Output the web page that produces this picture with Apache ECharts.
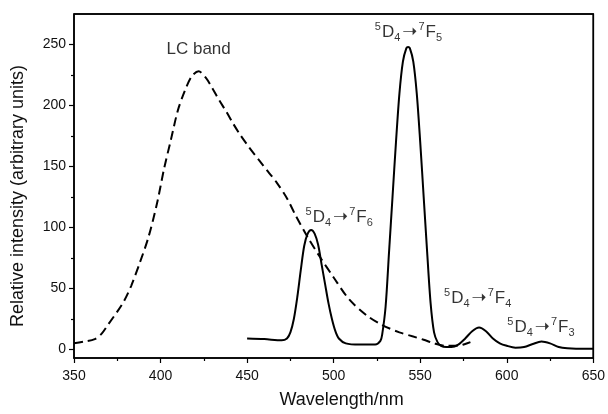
<!DOCTYPE html>
<html>
<head>
<meta charset="utf-8">
<script src="https://cdn.jsdelivr.net/npm/echarts@6/dist/echarts.min.js"></script>
<style>html,body{margin:0;padding:0;background:#fff}#c{width:608px;height:414px}</style>
</head>
<body>
<div id="c"></div>
<script>
// LC band (dashed) — wavelength (nm) and intensity
var lcX = [350,356,362,366,370,375,379,383,388,393,398,402,406,410,414,418,422,426,430,434,438,442,446,451,457,462,467,473,478,485,492,500,509,519,528,538,545,552,558,565,572,576,579];
var lcY = [5,6.5,8.5,13,21,31,40,52,71,92,120,148,172,196,212,224,228,223,214,204,195,185,176,166,155,146,137,124,110,92,76,59,41,28,20,14,11,8,5,3,3,4.5,6];
// Tb3+ emission (solid)
var emX = [450,460,470,473,475,477,479,481,483,485,487,489,491,493,495,497,499,501,503,507,515,524,527,528,530,532,534,536,538,540,542,543,544,546,548,550,552,554,556,558,560,562,565,568,572,576,580,584,588,592,596,600,605,610,615,620,625,630,635,645,650];
var emY = [9,8.5,7.5,9,14,25,43,65,85,95,98,95,86,70,54,38,25,15,9,5,4,4,7,12,35,80,125,170,210,236,247,248,247,236,210,170,125,80,38,14,6,3,2,2,4,9,15,18,15,9,5,3,1.5,2,4.5,6.5,5,2,1,0.5,0.5];
// axis ranges and tick values
var xRange = [350, 650];
var yRange = [-7, 275];
var yTicks = [0,50,100,150,200,250];
// annotations
var annX = [543.5, 503.5, 583.5, 620];
var annY = [260, 108, 42, 18];
var annLower = ['5','5','5','5'];
var annUpper = ['7','7','7','7'];
var annFinal = ['5','6','4','3'];
var lcLabel = 'LC band';
var lcLabelPos = [422, 246];

var FONT = '"Liberation Sans", Arial, sans-serif';
var chart = echarts.init(document.getElementById('c'));

function pairs(xs, ys){ return xs.map(function(x,i){ return [x, ys[i]]; }); }
var annData = annX.map(function(x,i){ return {value:[x, annY[i]], sIdx:i}; });
// frame path along the top and right edges of the axes' ranges
var frameData = [[xRange[0], yRange[1]], [xRange[1], yRange[1]], [xRange[1], yRange[0]]];

var option = {
  animation: false,
  backgroundColor: '#fff',
  grid: {left: 74, right: 14, top: 14, bottom: 52, show: true, borderColor: '#000', borderWidth: 1.5},
  xAxis: {
    type: 'value', min: xRange[0], max: xRange[1], interval: 50,
    axisLine: {show: true, onZero: false, lineStyle: {color: '#000', width: 1.5}},
    axisTick: {show: true, length: 5, lineStyle: {color: '#000', width: 1.2}},
    minorTick: {show: true, splitNumber: 2, length: 3, lineStyle: {color: '#000', width: 1.2}},
    splitLine: {show: false},
    axisLabel: {color: '#111', fontSize: 14, fontFamily: FONT, margin: 11},
    name: 'Wavelength/nm', nameLocation: 'middle', nameGap: 33,
    nameTextStyle: {color: '#111', fontSize: 18, fontFamily: FONT, padding: [0, 0, 0, 16]}
  },
  yAxis: {
    type: 'value', min: yRange[0], max: yRange[1],
    axisLine: {show: true, onZero: false, lineStyle: {color: '#000', width: 1.5}},
    axisTick: {show: true, length: 5, customValues: yTicks, lineStyle: {color: '#000', width: 1.2}},
    minorTick: {show: true, splitNumber: 2, length: 3, lineStyle: {color: '#000', width: 1.2}},
    axisLabel: {color: '#111', fontSize: 14, fontFamily: FONT, margin: 8, customValues: yTicks},
    splitLine: {show: false},
    name: 'Relative intensity (arbitrary units)', nameLocation: 'middle', nameGap: 47,
    nameTextStyle: {color: '#111', fontSize: 18, fontFamily: FONT, padding: [0, 20, 0, 0]}
  },
  series: [{
    type: 'line', name: 'frame', data: frameData, symbol: 'none', clip: false,
    lineStyle: {color: '#000', width: 1.5}
  }, {
    type: 'line', name: 'LC', data: pairs(lcX, lcY), smooth: 0.3, symbol: 'none',
    lineStyle: {color: '#000', width: 2, type: [9, 5]}
  }, {
    type: 'line', name: 'Tb', data: pairs(emX, emY), smooth: 0.3, symbol: 'none',
    lineStyle: {color: '#000', width: 2}
  }, {
    type: 'scatter', data: [{value: lcLabelPos}], symbolSize: 0, silent: true,
    label: {show: true, position: 'inside', formatter: lcLabel, color: '#000', fontSize: 17, fontFamily: FONT}
  }, {
    type: 'scatter', data: annData, symbolSize: 0, silent: true,
    label: {
      show: true, position: 'inside',
      formatter: function(p){
        var i = p.data.sIdx;
        return '{sup|' + annLower[i] + '}{m|D}{sub|4}{ar|\u279D}{sup|' + annUpper[i] + '}{m|F}{sub|' + annFinal[i] + '}';
      },
      rich: {
        m: {fontSize: 17, fontFamily: FONT, color: '#000', lineHeight: 22, verticalAlign: 'middle'},
        sup: {fontSize: 11, fontFamily: FONT, color: '#000', lineHeight: 22, verticalAlign: 'top', padding: [0,1,0,0]},
        sub: {fontSize: 11, fontFamily: FONT, color: '#000', lineHeight: 22, verticalAlign: 'bottom', padding: [0,1,0,0]},
        ar: {fontSize: 18, fontFamily: '"DejaVu Sans"', color: '#000', lineHeight: 22, verticalAlign: 'middle', padding: [0,1,0,1]}
      }
    }
  }]
};
chart.setOption(option);
</script>
</body>
</html>
